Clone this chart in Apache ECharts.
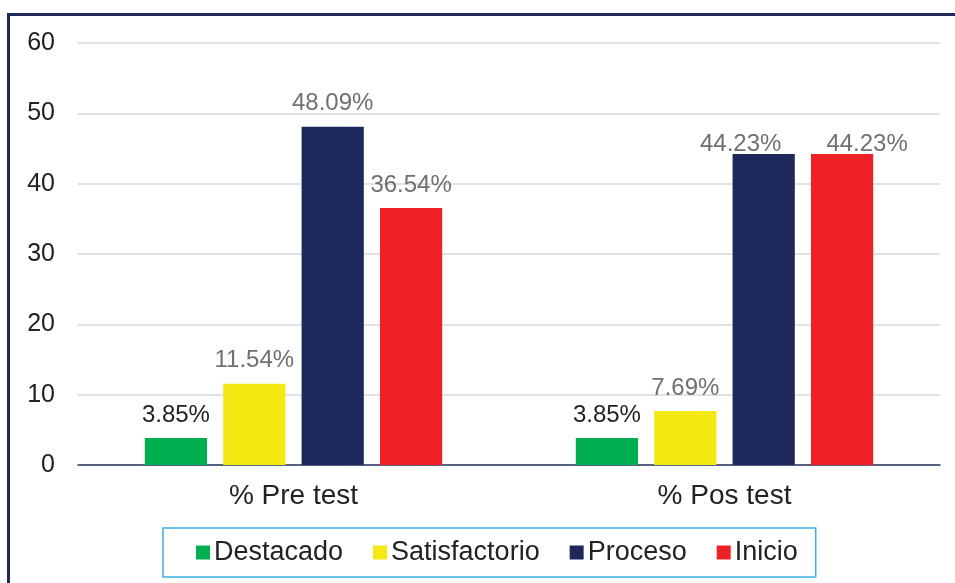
<!DOCTYPE html>
<html><head><meta charset="utf-8">
<script src="https://cdn.jsdelivr.net/npm/echarts@6/dist/echarts.min.js"></script>
<style>html,body{margin:0;padding:0;background:#fff}#c{width:955px;height:583px}</style>
</head><body><div id="c"></div>
<script>
const categories = ['% Pre test', '% Pos test'];
const seriesNames = ['Destacado', 'Satisfactorio', 'Proceso', 'Inicio'];
const destacado = [3.85, 3.85];
const satisfactorio = [11.54, 7.69];
const proceso = [48.09, 44.23];
const inicio = [36.54, 44.23];
const yTicks = [0, 10, 20, 30, 40, 50, 60];

const colors = ['#00b050', '#f5e914', '#1f285a', '#ee2226'];
const labelColors = ['#222222', '#707070', '#707070', '#707070'];
const values = [destacado, satisfactorio, proceso, inicio];
// manual label nudges (as in the original, to avoid overlap of equal labels)
const labelOffsets = [[null, null], [null, null], [null, [-23, 13]], [null, [25, 13]]];

const chart = echarts.init(document.getElementById('c'), null, {renderer: 'canvas'});
chart.setOption({
  animation: false,
  textStyle: {fontFamily: 'Liberation Sans, Arial, sans-serif'},
  graphic: [{
    type: 'rect', silent: true, z: 100,
    shape: {x: 8.5, y: 14.5, width: 1000, height: 700},
    style: {fill: 'none', stroke: '#1f285a', lineWidth: 3}
  }],
  grid: {left: 78, right: 15, top: 43, bottom: 118, containLabel: false},
  legend: {
    data: seriesNames,
    left: 163, top: 528,
    padding: [11, 18, 11, 33],
    borderColor: '#3db1e3', borderWidth: 1.5,
    itemWidth: 14, itemHeight: 14, itemGap: 30,
    icon: 'rect',
    textStyle: {fontSize: 27, color: '#222', padding: [0, 0, 0, -1]}
  },
  xAxis: {
    type: 'category', data: categories,
    axisLine: {lineStyle: {color: '#2d3763', width: 1.5}},
    axisTick: {show: false},
    axisLabel: {fontSize: 28, color: '#222', margin: 17}
  },
  yAxis: {
    type: 'value', min: 0, max: 60, interval: 10,
    axisLine: {show: false}, axisTick: {show: false},
    splitLine: {lineStyle: {color: '#d9d9d9', width: 1.5}},
    axisLabel: {fontSize: 25, color: '#222', margin: 23,
      formatter: v => yTicks.includes(v) ? String(v) : ''}
  },
  series: seriesNames.map((n, i) => ({
    name: n, type: 'bar',
    data: values[i].map((v, j) => labelOffsets[i][j]
      ? {value: v, label: {offset: labelOffsets[i][j]}} : v),
    itemStyle: {color: colors[i]},
    barCategoryGap: '31%', barGap: '26%',
    label: {show: true, position: 'top', distance: 11, fontSize: 24,
      color: labelColors[i], formatter: p => p.value.toFixed(2) + '%'}
  }))
});
</script></body></html>
